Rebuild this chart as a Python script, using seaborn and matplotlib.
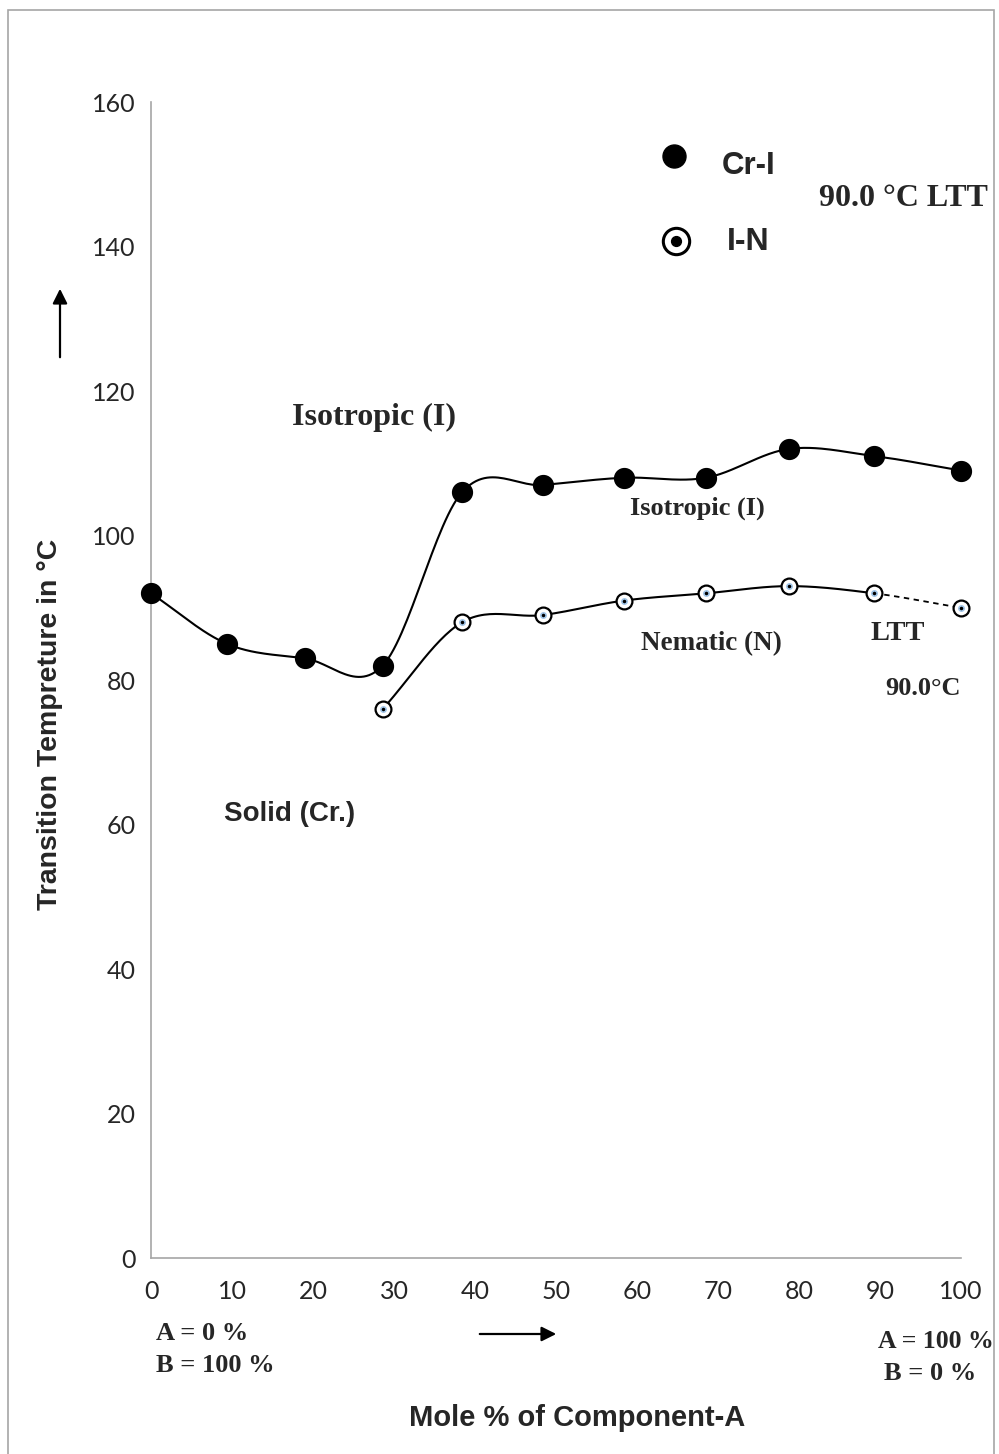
import matplotlib
matplotlib.use("Agg")
import matplotlib.pyplot as plt
import numpy as np
import pandas as pd
import seaborn as sns
from matplotlib.patches import FancyArrowPatch, Rectangle

# data
mole_cr = [0, 9.4, 19.0, 28.6, 38.4, 48.4, 58.4, 68.5, 78.8, 89.3, 100]
temp_cr = [92, 85, 83, 82, 106, 107, 108, 108, 112, 111, 109]
mole_in = [28.6, 38.4, 48.4, 58.4, 68.5, 78.8, 89.3, 100]
temp_in = [76, 88, 89, 91, 92, 93, 92, 90]
x_ticks = list(range(0, 101, 10))
y_ticks = list(range(0, 161, 20))


def smooth(xs, ys, n=30):
    """Catmull-Rom curve through the points (Excel style smoothed line)."""
    xs, ys = np.asarray(xs, float), np.asarray(ys, float)
    px = np.r_[2 * xs[0] - xs[1], xs, 2 * xs[-1] - xs[-2]]
    py = np.r_[2 * ys[0] - ys[1], ys, 2 * ys[-1] - ys[-2]]
    t = np.linspace(0, 1, n)
    out_x, out_y = [], []
    for i in range(1, len(px) - 2):
        for p, out in ((px, out_x), (py, out_y)):
            p0, p1, p2, p3 = p[i - 1], p[i], p[i + 1], p[i + 2]
            out.extend(0.5 * (2 * p1 + (-p0 + p2) * t + (2 * p0 - 5 * p1 + 4 * p2 - p3) * t**2
                              + (-p0 + 3 * p1 - 3 * p2 + p3) * t**3))
    return pd.DataFrame({"x": out_x, "y": out_y})


sns.set_style("white")
plt.rcParams["font.family"] = ["Lato", "DejaVu Sans"]

fig = plt.figure(figsize=(9.99, 14.54), dpi=100)
ax = fig.add_axes([0.1512, 0.1348, 0.8108, 0.795])

cr_curve = smooth(mole_cr, temp_cr)
in_curve = smooth(mole_in, temp_in)
in_solid = in_curve[in_curve["x"] <= mole_in[-2] + 1e-9]
in_dash = in_curve[in_curve["x"] >= mole_in[-2] - 1e-9]

sns.lineplot(data=cr_curve, x="x", y="y", sort=False, color="black", lw=1.5, ax=ax)
sns.lineplot(data=in_solid, x="x", y="y", sort=False, color="black", lw=1.5, ax=ax)
sns.lineplot(data=in_dash, x="x", y="y", sort=False, color="black", lw=1.3, ax=ax,
             linestyle=(0, (3, 2.5)))

sns.scatterplot(x=mole_cr, y=temp_cr, s=200, color="black", edgecolor="black", ax=ax,
                zorder=5, clip_on=False)
sns.scatterplot(x=mole_in, y=temp_in, s=130, facecolor="white", edgecolor="black",
                linewidth=1.6, ax=ax, zorder=5, clip_on=False)
sns.scatterplot(x=mole_in, y=temp_in, s=14, color="black", edgecolor="#9fc3e6",
                linewidth=1.2, ax=ax, zorder=6, clip_on=False)

ax.set_xlim(0, 100)
ax.set_ylim(0, 160)
ax.set_xticks(x_ticks)
ax.set_yticks(y_ticks)
for side in ("top", "right"):
    ax.spines[side].set_visible(False)
for side in ("left", "bottom"):
    ax.spines[side].set_color("#a6a6a6")
    ax.spines[side].set_linewidth(1.2)
ax.tick_params(axis="both", direction="out", length=7, width=1.2, color="#a6a6a6",
               labelsize=18, pad=4)
ax.tick_params(axis="x", pad=9)
ax.set_xlabel("")
ax.set_ylabel("")

sans = ["Liberation Sans"]
serif = ["Liberation Serif"]
fig.text(0.05, 0.502, "Transition Tempreture in °C", rotation=90, ha="center", va="center",
         fontsize=20.5, fontweight="bold", family=sans)
fig.text(0.578, 0.025, "Mole % of Component-A", ha="center", va="center",
         fontsize=21, fontweight="bold", family=sans)

ax.text(17.4, 116.4, "Isotropic (I)", fontsize=23, fontweight="bold", family=serif, va="center")
ax.text(59.1, 103.8, "Isotropic (I)", fontsize=19, fontweight="bold", family=serif, va="center")
ax.text(60.5, 85.1, "Nematic (N)", fontsize=19.5, fontweight="bold", family=serif, va="center")
ax.text(88.8, 86.4, "LTT", fontsize=20.5, fontweight="bold", family=serif, va="center")
ax.text(90.7, 78.8, "90.0°C", fontsize=19, fontweight="bold", family=serif, va="center")
ax.text(82.5, 146.7, "90.0 °C LTT", fontsize=23, fontweight="bold", family=serif, va="center")
ax.text(9.0, 61.4, "Solid (Cr.)", fontsize=20, fontweight="bold", family=sans, va="center")

# legend drawn by hand, as in the original
ax.scatter([64.6], [152.5], s=274, color="black", zorder=5, clip_on=False)
ax.scatter([64.8], [140.8], s=360, facecolor="white", edgecolor="black", linewidth=2.2,
           zorder=5, clip_on=False)
ax.scatter([64.8], [140.8], s=50, color="black", zorder=6, clip_on=False)
ax.text(70.4, 151.2, "Cr-I", fontsize=22.5, fontweight="bold", family=sans, va="center")
ax.text(71.1, 140.6, "I-N", fontsize=23, fontweight="bold", family=sans, va="center")

fig.text(156 / 999, 1 - 1334 / 1454, "A = 0 %", fontsize=19, fontweight="bold", family=serif,
         va="center")
fig.text(156 / 999, 1 - 1366 / 1454, "B = 100 %", fontsize=19, fontweight="bold", family=serif,
         va="center")
fig.text(878 / 999, 1 - 1342 / 1454, "A = 100 %", fontsize=18.5, fontweight="bold", family=serif,
         va="center")
fig.text(884 / 999, 1 - 1374 / 1454, "B = 0 %", fontsize=19, fontweight="bold", family=serif,
         va="center")

arrow = dict(arrowstyle="-|>", color="black", lw=1.6, mutation_scale=22)
fig.add_artist(FancyArrowPatch((60 / 999, 1 - 360 / 1454), (60 / 999, 1 - 286 / 1454),
                               transform=fig.transFigure, **arrow))
fig.add_artist(FancyArrowPatch((477 / 999, 1 - 1334 / 1454), (559 / 999, 1 - 1334 / 1454),
                               transform=fig.transFigure, **arrow))

fig.add_artist(Rectangle((8 / 999, -0.01), 986 / 999, 1 - 10 / 1454 + 0.01,
                         transform=fig.transFigure, fill=False, edgecolor="#a6a6a6", lw=1.2))

fig.savefig("out.png", dpi=100)
